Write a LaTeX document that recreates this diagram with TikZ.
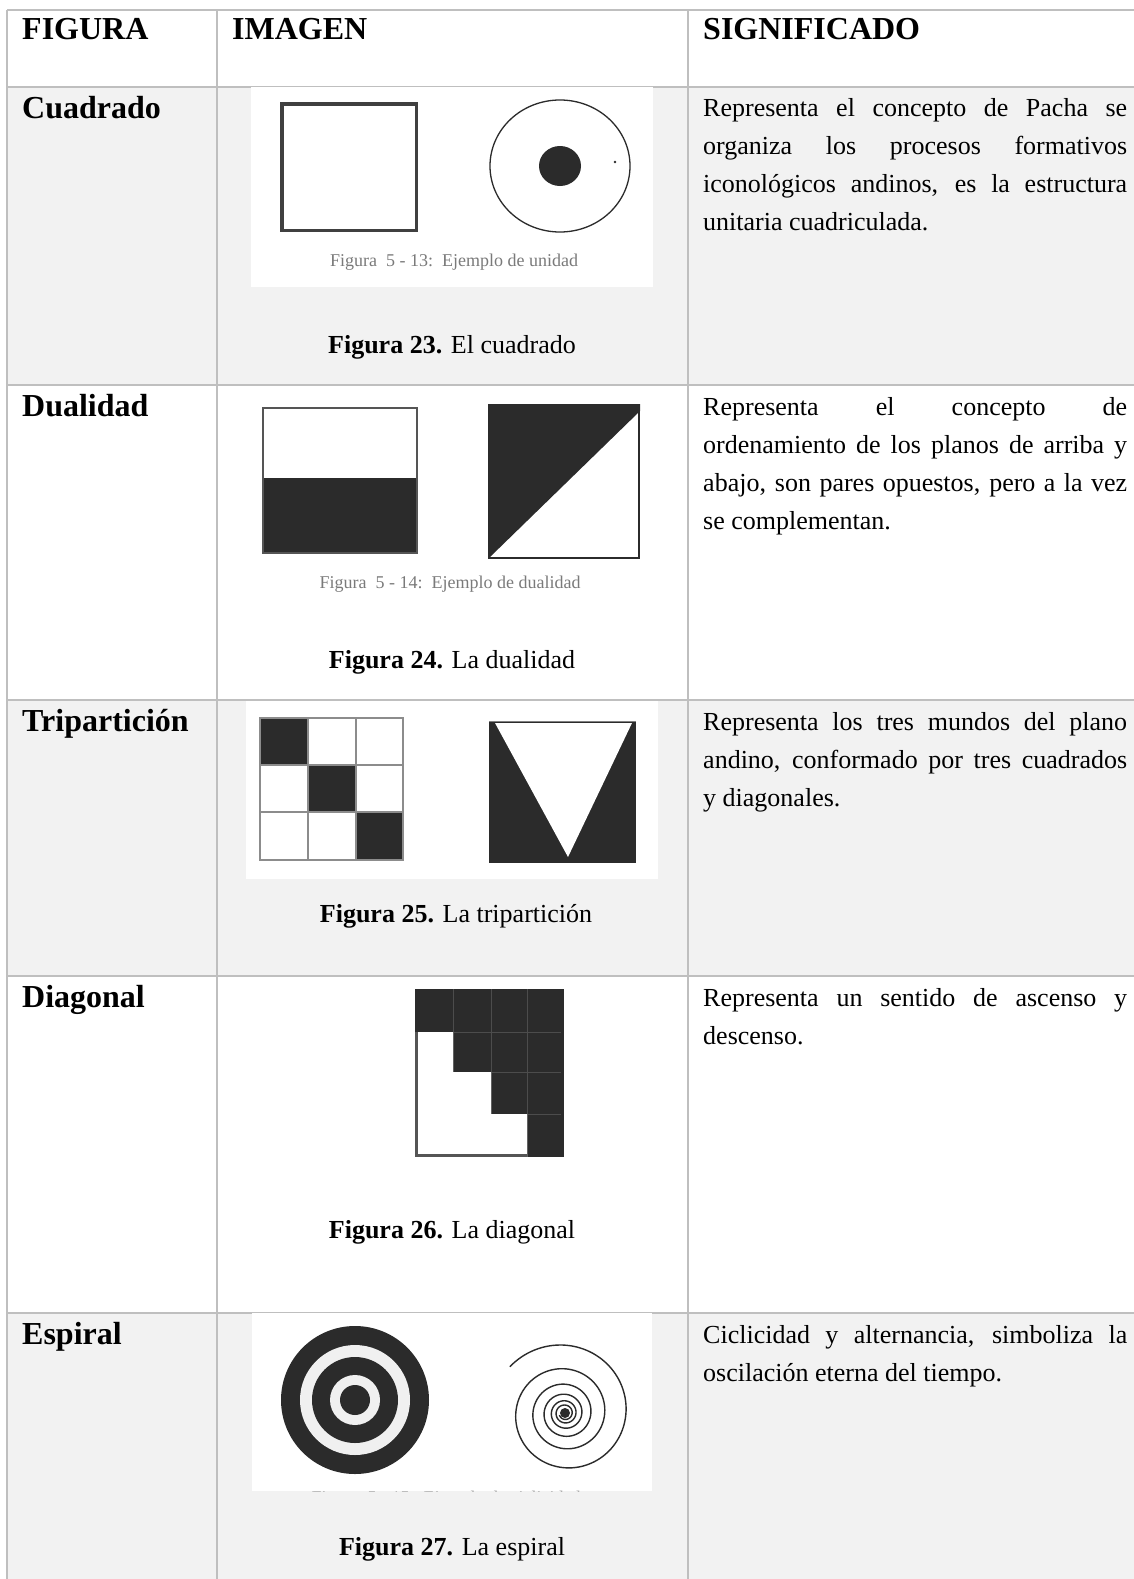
\documentclass[tikz,border=0pt]{standalone}
\usepackage{fontspec}
\setmainfont{Liberation Serif}
\definecolor{gridc}{HTML}{BFBFBF}
\definecolor{rowgray}{HTML}{F2F2F2}
\definecolor{ink}{HTML}{2B2B2B}
\definecolor{capgray}{HTML}{7A7A7A}
\definecolor{frame}{HTML}{555555}
\newcommand\headfs{\fontsize{32}{36}\selectfont\bfseries}
\newcommand\bodyfs{\fontsize{26}{36}\selectfont}
\newcommand\capfs{\fontsize{26}{30}\selectfont}
\newcommand\smallcapfs{\fontsize{18}{22}\selectfont}
\newcommand\jline[1]{\makebox[424pt][s]{#1}}
\begin{document}
\begin{tikzpicture}[x=1pt,y=-1pt,
  tblrule/.style={draw=gridc,line width=2pt},
  headtxt/.style={anchor=base west,inner sep=0pt,font=\headfs},
  bodytxt/.style={anchor=base west,inner sep=0pt,font=\bodyfs},
  figcap/.style={anchor=base,inner sep=0pt,font=\capfs},
  scancap/.style={anchor=base,inner sep=0pt,font=\smallcapfs,text=capgray}]
\useasboundingbox (0,0) rectangle (1134,1579);
% row backgrounds
\fill[rowgray] (7,87) rectangle (1134,385);
\fill[rowgray] (7,700) rectangle (1134,976);
\fill[rowgray] (7,1313) rectangle (1134,1579);
% rules
\foreach \yy in {10,87,385,700,976,1313} \draw[tblrule] (7,\yy) -- (1134,\yy);
\foreach \xx in {7,217,688} \draw[tblrule] (\xx,10) -- (\xx,1579);
% header
\node[headtxt] (hfig) at (22,40) {FIGURA};
\node[headtxt] (himg) at (232,40) {IMAGEN};
\node[headtxt] (hsig) at (703,40) {SIGNIFICADO};
% row labels
\node[headtxt] (l1) at (22,118) {Cuadrado};
\node[headtxt] (l2) at (22,416) {Dualidad};
\node[headtxt] (l3) at (22,731) {Tripartición};
\node[headtxt] (l4) at (22,1007) {Diagonal};
\node[headtxt] (l5) at (22,1344) {Espiral};
% ---------- row 1 image
\fill[white] (251,87) rectangle (653,287);
\draw[line width=3.5pt,draw=ink!90] (281.75,103.75) rectangle (416.25,230.25);
\draw[line width=1.3pt,ink] (560,166) ellipse (70 and 66);
\fill[ink] (560,166) ellipse (21 and 20);
\fill[ink] (615,162) circle (1.3);
\node[scancap] (s1) at (454,266) {Figura\ \ 5 - 13:\ \ Ejemplo de unidad};
\node[figcap] (c1) at (452,353) {\textbf{Figura 23.} El cuadrado};
% ---------- row 2 image
\fill[ink] (262,478) rectangle (418,554);
\draw[frame,line width=2.2pt] (263.1,408.1) rectangle (416.9,552.9);
\draw[ink,line width=2.2pt] (489,405) rectangle (639,558);
\fill[ink] (488,404) -- (640,404) -- (640,411) -- (490,557) -- (488,557) -- cycle;
\node[scancap] (s2) at (450,588) {Figura\ \ 5 - 14:\ \ Ejemplo de dualidad};
\node[figcap] (c2) at (452,668) {\textbf{Figura 24.} La dualidad};
% ---------- row 3 image
\fill[white] (246,701) rectangle (658,879);
\fill[ink] (260,718) rectangle (308,765);
\fill[ink] (308,765) rectangle (356,812);
\fill[ink] (356,812) rectangle (403,860);
\foreach \xx in {308,356} \draw[gray!90,line width=1.6pt] (\xx,718) -- (\xx,860);
\foreach \yy in {765,812} \draw[gray!90,line width=1.6pt] (260,\yy) -- (403,\yy);
\draw[gray!90,line width=1.6pt] (260,718) rectangle (403,860);
\fill[ink] (489,721) rectangle (636,863);
\fill[white] (495,723) -- (632,723) -- (568,857) -- cycle;
\draw[gray,line width=1pt] (489,721.5) -- (636,721.5);
\node[figcap] (c3) at (456,922) {\textbf{Figura 25.} La tripartición};
% ---------- row 4 image
\fill[ink] (415,989) rectangle (564,1157);
\foreach \xx in {453,491,527} \draw[black!70,line width=1pt] (\xx,989) -- (\xx,1157);
\foreach \yy in {1032,1072,1114} \draw[black!70,line width=1pt] (415,\yy) -- (561,\yy);
\fill[white] (415,1032) -- (453,1032) -- (453,1072) -- (491,1072) -- (491,1114) -- (527,1114) -- (527,1157) -- (415,1157) -- cycle;
\draw[frame,line width=2.6pt] (416.3,1032) -- (416.3,1155.7) -- (527,1155.7);
\node[figcap] (c4) at (452,1238) {\textbf{Figura 26.} La diagonal};
% ---------- row 5 image
\fill[white] (252,1313) rectangle (652,1491);
\fill[ink] (355,1400) circle (74);
\fill[white!94!black] (355,1400) circle (55);
\fill[ink] (355,1400) circle (43);
\fill[white!94!black] (355,1400) circle (25);
\fill[ink] (355,1400) circle (15);
\draw[ink,line width=1.4pt] plot[domain=0:2100,samples=700,smooth]
  ({565+72*exp(-0.0011967*\x)*cos(220+\x)},{1413+72*exp(-0.0011967*\x)*sin(220+\x)});
\fill[ink] (565,1413) circle (5);
\begin{scope}
\clip (252,1313) rectangle (652,1491);
\node[scancap,text=capgray!60] (s5) at (446,1503) {Figura\ \ 5 - 15:\ \ Ejemplo de ciclicidad};
\end{scope}
\node[figcap] (c5) at (452,1555) {\textbf{Figura 27.} La espiral};
% ---------- significado column
\node[bodytxt] (t11) at (703,116) {\jline{Representa el concepto de Pacha se}};
\node[bodytxt] (t12) at (703,154) {\jline{organiza los procesos formativos}};
\node[bodytxt] (t13) at (703,192) {\jline{iconológicos andinos, es la estructura}};
\node[bodytxt] (t14) at (703,230) {unitaria cuadriculada.};
\node[bodytxt] (t21) at (703,415) {\jline{Representa el concepto de}};
\node[bodytxt] (t22) at (703,453) {\jline{ordenamiento de los planos de arriba y}};
\node[bodytxt] (t23) at (703,491) {\jline{abajo, son pares opuestos, pero a la vez}};
\node[bodytxt] (t24) at (703,529) {se complementan.};
\node[bodytxt] (t31) at (703,730) {\jline{Representa los tres mundos del plano}};
\node[bodytxt] (t32) at (703,768) {\jline{andino, conformado por tres cuadrados}};
\node[bodytxt] (t33) at (703,806) {y diagonales.};
\node[bodytxt] (t41) at (703,1006) {\jline{Representa un sentido de ascenso y}};
\node[bodytxt] (t42) at (703,1044) {descenso.};
\node[bodytxt] (t51) at (703,1343) {\jline{Ciclicidad y alternancia, simboliza la}};
\node[bodytxt] (t52) at (703,1381) {oscilación eterna del tiempo.};
\end{tikzpicture}
\end{document}
